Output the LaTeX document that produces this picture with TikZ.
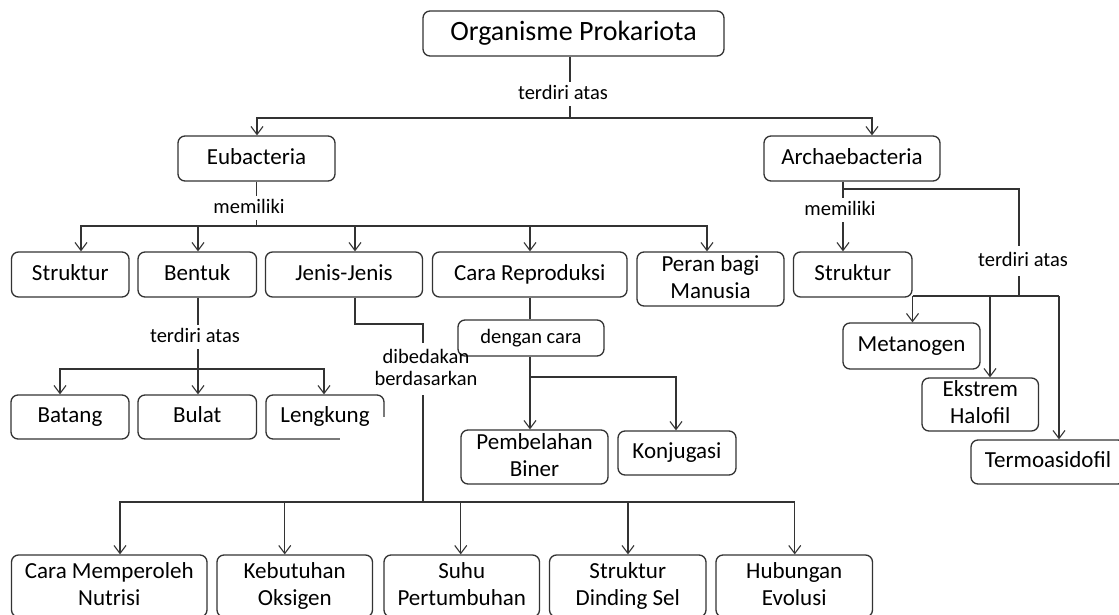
\documentclass[tikz,border=0pt]{standalone}
\usepackage{fontspec}
\setmainfont{Carlito}
\usetikzlibrary{arrows.meta}
\newcommand\txtstrut{\vrule width 0pt height 0.72em depth 0.2em\relax}
\begin{document}
\begin{tikzpicture}[x=1pt,y=-1pt,
  box/.style={draw=black!80, line width=1.3pt, rounded corners=7pt, align=center, inner sep=0pt,
    font=\fontsize{23}{27}\selectfont,
    execute at begin node=\txtstrut, execute at end node=\txtstrut},
  sz/.style 2 args={minimum width=#1pt, minimum height=#2pt},
  lblfont/.style={font=\fontsize{20.5}{22}\selectfont},
  lbl/.style={lblfont, fill=white, inner sep=3pt,
    execute at begin node=\txtstrut, execute at end node=\txtstrut},
  conn/.style={draw=black!80, line width=1.1pt},
  arr/.style={conn, -{Straight Barb[length=8pt,width=12pt]}}]
\useasboundingbox (0,0) rectangle (1119,615);
\clip (0,0) rectangle (1119,615);
\fill[white] (0,0) rectangle (1119,615);

% ---- boxes ----
\node[box, sz={301}{45}, font=\fontsize{28}{32}\selectfont] (org) at (573.5,33.5) {Organisme Prokariota};
\node[box, sz={157}{45}] (eub) at (256.5,158.5) {Eubacteria};
\node[box, sz={176}{45}] (arc) at (852,158.5) {Archaebacteria};
\node[box, sz={117.5}{45}] (sa) at (70.25,274.5) {Struktur};
\node[box, sz={118.5}{45}] (ben) at (197.25,274.5) {Bentuk};
\node[box, sz={157}{45}] (jen) at (344,274.5) {Jenis-Jenis};
\node[box, sz={194.5}{45}] (cara) at (529.75,274.5) {Cara Reproduksi};
\node[box, sz={147}{54}] (per) at (710.5,279) {Peran bagi\\Manusia};
\node[box, sz={118.5}{45}] (sb) at (852.75,274.5) {Struktur};
\node[box, sz={118}{44}] (bat) at (70,417) {Batang};
\node[box, sz={118.5}{44}] (bul) at (197.25,417) {Bulat};
\node[box, sz={118}{44}] (len) at (325,417) {Lengkung};
\fill[white] (339.5,425.5) rectangle (392,447);
\fill[white] (378,416.5) rectangle (392,447);
\node[box, sz={146}{36}, lblfont] (den) at (531,338) {dengan cara};
\node[box, sz={147}{54}] (pem) at (534.5,457) {Pembelahan\\Biner};
\node[box, sz={118}{44}] (kon) at (677,453) {Konjugasi};
\node[box, sz={137}{46}] (met) at (911.5,346) {Metanogen};
\node[box, sz={116.5}{53}] (eks) at (980.25,404.5) {Ekstrem\\Halofil};
\node[box, sz={154}{44}] (ter) at (1048,462) {Termoasidofil};
\node[box, sz={195.5}{62}] (cmn) at (109.25,586) {Cara Memperoleh\\Nutrisi};
\node[box, sz={155.5}{62}] (keb) at (294.75,586) {Kebutuhan\\Oksigen};
\node[box, sz={155.5}{62}] (suh) at (461.75,586) {Suhu\\Pertumbuhan};
\node[box, sz={156.5}{62}] (sds) at (627.75,586) {Struktur\\Dinding Sel};
\node[box, sz={156.5}{62}] (hub) at (794.25,586) {Hubungan\\Evolusi};

% ---- root ----
\coordinate (j0) at (570,118);
\draw[conn] (org.south -| j0) -- (j0);
\draw[arr] (j0) -| ([xshift=0.5pt]eub.north);
\draw[arr] (j0) -| ([xshift=20pt]arc.north);
\node[lbl] (l0) at (563,94) {terdiri atas};

% ---- Eubacteria ----
\coordinate (j1) at (256.5,226);
\draw[conn] (eub.south) -- (j1);
\draw[arr] (j1) -| ([xshift=10.75pt]sa.north);
\draw[arr] (j1) -| ([xshift=0.75pt]ben.north);
\draw[arr] (j1) -| ([xshift=11pt]jen.north);
\draw[arr] (j1) -| ([xshift=0.25pt]cara.north);
\draw[arr] (j1) -| ([xshift=-3.5pt]per.north);
\node[lbl] (l1) at (249,208) {memiliki};

% ---- Archaebacteria ----
\coordinate (a1) at ([xshift=-9pt]arc.south);
\draw[arr] (a1) -- (a1 |- sb.north);
\node[lbl] (l2) at (840,210) {memiliki};
\coordinate (a2) at (843,189);
\coordinate (a3) at (1019,296);
\draw[conn] (a2) -| (a3);
\node[lbl, inner ysep=6pt] (l3) at (1023,261) {terdiri atas};
\coordinate (a4) at (912.5,296);
\coordinate (a5) at (1059,296);
\coordinate (a6) at (990,296);
\draw[conn] (a4) -- (a5);
\draw[arr] (a4) -- (a4 |- met.north);
\draw[arr] (a6) -- (a6 |- eks.north);
\draw[arr] (a5) -- (a5 |- ter.north);

% ---- Bentuk ----
\coordinate (b1) at (198,369);
\draw[conn] (ben.south -| b1) -- (b1);
\draw[arr] (b1) -| ([xshift=-10pt]bat.north);
\draw[arr] (b1) -- (b1 |- bul.north);
\draw[arr] (b1) -| ([xshift=-1pt]len.north);
\node[lbl] (l4) at (195,337) {terdiri atas};

% ---- Jenis-Jenis ----
\coordinate (c0) at ([xshift=11pt]jen.south);
\coordinate (c1) at (423,324);
\coordinate (c1b) at (423,343);
\coordinate (c1c) at (423,395);
\coordinate (c2) at (423,502);
\draw[conn] (c0) |- (c1) -- (c1b);
\draw[conn] (c1c) -- (c2);
\node[lblfont, align=center, inner sep=0pt, execute at begin node=\txtstrut, execute at end node=\txtstrut] (l5) at (426,369) {dibedakan\\berdasarkan};
\draw[arr] (c2) -| ([xshift=10.75pt]cmn.north);
\draw[arr] (c2) -| ([xshift=-10pt]keb.north);
\draw[arr] (c2) -| ([xshift=-1pt]suh.north);
\draw[arr] (c2) -| ([xshift=0.25pt]sds.north);
\draw[arr] (c2) -| ([xshift=0.5pt]hub.north);

% ---- Cara Reproduksi ----
\coordinate (d0) at ([xshift=0.25pt]cara.south);
\draw[conn] (d0) -- (d0 |- den.north);
\coordinate (d1) at (d0 |- den.south);
\coordinate (d2) at (530,377);
\draw[arr] (d1) -- (d1 |- pem.north);
\draw[arr] (d2) -| ([xshift=-1pt]kon.north);
\end{tikzpicture}
\end{document}
